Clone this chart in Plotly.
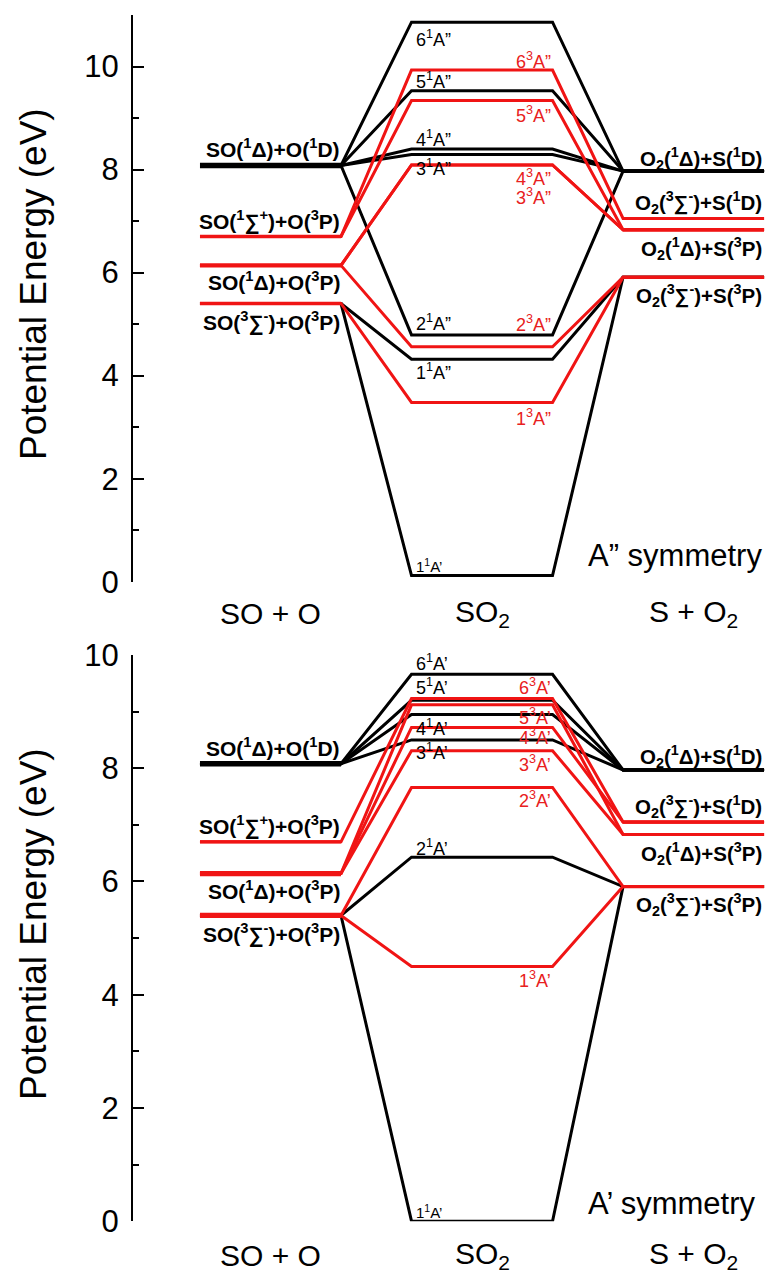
import plotly.graph_objects as go

# ---------------- data ----------------
# x nodes of the three columns (reactants, SO2, products)
X_LEFT = [0.0, 1.0]
X_MID = [1.5, 2.5]
X_RIGHT = [3.0, 4.0]
CATEGORIES = ["SO + O", "SO<sub>2</sub>", "S + O<sub>2</sub>"]
CATEGORY_X = [0.5, 2.0, 3.5]

LEFT_NAMES = [
    "SO(<sup>1</sup>Δ)+O(<sup>1</sup>D)",
    "SO(<sup>1</sup>∑<sup>+</sup>)+O(<sup>3</sup>P)",
    "SO(<sup>1</sup>Δ)+O(<sup>3</sup>P)",
    "SO(<sup>3</sup>∑<sup>-</sup>)+O(<sup>3</sup>P)",
]
LEFT_E = [8.08, 6.70, 6.14, 5.40]

RIGHT_NAMES = [
    "O<sub>2</sub>(<sup>1</sup>Δ)+S(<sup>1</sup>D)",
    "O<sub>2</sub>(<sup>3</sup>∑<sup>-</sup>)+S(<sup>1</sup>D)",
    "O<sub>2</sub>(<sup>1</sup>Δ)+S(<sup>3</sup>P)",
    "O<sub>2</sub>(<sup>3</sup>∑<sup>-</sup>)+S(<sup>3</sup>P)",
]
RIGHT_E = [7.97, 7.05, 6.83, 5.91]

# A'' symmetry panel
APP_STATES = ["6<sup>1</sup>A”", "5<sup>1</sup>A”", "4<sup>1</sup>A”", "3<sup>1</sup>A”", "2<sup>1</sup>A”",
              "1<sup>1</sup>A”", "1<sup>1</sup>A’",
              "6<sup>3</sup>A”", "5<sup>3</sup>A”", "4<sup>3</sup>A”", "3<sup>3</sup>A”", "2<sup>3</sup>A”",
              "1<sup>3</sup>A”"]
APP_E = [10.86, 9.53, 8.40, 8.29, 4.79, 4.32, 0.12,
         9.93, 9.34, 8.09, 8.09, 4.56, 3.48]
APP_LEFT = [0, 0, 0, 0, 0, 3, 3, 1, 1, 2, 2, 2, 3]
APP_RIGHT = [0, 0, 0, 0, 0, 3, 3, 1, 2, 2, 2, 3, 3]
APP_SPIN = [1, 1, 1, 1, 1, 1, 1, 3, 3, 3, 3, 3, 3]

# A' symmetry panel
AP_STATES = ["6<sup>1</sup>A’", "5<sup>1</sup>A’", "4<sup>1</sup>A’", "3<sup>1</sup>A’", "2<sup>1</sup>A’",
             "1<sup>1</sup>A’",
             "6<sup>3</sup>A’", "5<sup>3</sup>A’", "4<sup>3</sup>A’", "3<sup>3</sup>A’", "2<sup>3</sup>A’",
             "1<sup>3</sup>A’"]
AP_E = [9.66, 9.20, 8.95, 8.50, 6.43, 0.0,
        9.23, 9.12, 8.72, 8.31, 7.66, 4.50]
AP_LEFT = [0, 0, 0, 0, 3, 3, 1, 2, 2, 2, 3, 3]
AP_RIGHT = [0, 0, 0, 0, 3, 3, 1, 2, 1, 2, 3, 3]
AP_SPIN = [1, 1, 1, 1, 1, 1, 3, 3, 3, 3, 3, 3]

Y_TICKS_TOP = [0, 2, 4, 6, 8, 10]
Y_TICKS_BOT = [0, 2, 4, 6, 8, 10]

# ---------------- style ----------------
BLACK = "#000000"
RED = "#f01414"
RED_TXT = "#e82020"
FONT = "Liberation Sans, Arial, sans-serif"
W, H = 769, 1277
ML = 133

# label placement (pixel shifts from their level; anchor side)
APP_LBL = {  # state index: (side, yshift, size)
    0: ("l", -16, 18), 1: ("l", 10, 18), 2: ("l", 10, 18), 3: ("l", -13, 18), 4: ("l", 12, 18),
    5: ("l", -12, 18), 6: ("l", 10, 15),
    7: ("r", 10, 18), 8: ("r", -14, 18), 9: ("r", -13, 18), 10: ("r", -32, 18), 11: ("r", 23, 18),
    12: ("r", -15, 18),
}
AP_LBL = {
    0: ("l", 12, 18), 1: ("l", 14, 18), 2: ("l", -13, 18), 3: ("l", -12, 18), 4: ("l", 10, 18),
    5: ("l", 10, 15),
    6: ("r", 12, 18), 7: ("r", -12, 18), 8: ("r", -9, 18), 9: ("r", -13, 18), 10: ("r", -12, 18),
    11: ("r", -13, 18),
}
LEFT_LBL_SHIFT = [17, 16, -16, -18]
RIGHT_LBL_SHIFT = [16, 19, -16, -15]
LEFT_W_TOP = [5.5, 3.5, 4.2, 3.6]
LEFT_W_BOT = [5.5, 3.2, 5.2, 5.2]

fig = go.Figure()


def add_panel(states, energies, lidx, ridx, spin, xa, ya, lbl, left_w):
    # black first, red on top
    for want in (1, 3):
        for i, s in enumerate(states):
            if spin[i] != want:
                continue
            col = BLACK if want == 1 else RED
            fig.add_trace(go.Scatter(
                x=X_LEFT + X_MID + X_RIGHT,
                y=[LEFT_E[lidx[i]]] * 2 + [energies[i]] * 2 + [RIGHT_E[ridx[i]]] * 2,
                mode="lines", line=dict(color=col, width=3.0),
                xaxis=xa, yaxis=ya, hoverinfo="skip", showlegend=False))
    # asymptote flats
    for k, e in enumerate(LEFT_E):
        col = BLACK if k == 0 else RED
        fig.add_trace(go.Scatter(x=X_LEFT, y=[e, e], mode="lines",
                                 line=dict(color=col, width=left_w[k]),
                                 xaxis=xa, yaxis=ya, hoverinfo="skip", showlegend=False))
    for k, e in enumerate(RIGHT_E):
        col = BLACK if k == 0 else RED
        fig.add_trace(go.Scatter(x=X_RIGHT, y=[e, e], mode="lines",
                                 line=dict(color=col, width=3.2),
                                 xaxis=xa, yaxis=ya, hoverinfo="skip", showlegend=False))
    # state labels
    for i, s in enumerate(states):
        side, dy, sz = lbl[i]
        col = BLACK if spin[i] == 1 else RED_TXT
        if side == "l":
            fig.add_annotation(x=X_MID[0], y=energies[i], xref=xa, yref=ya, text=s,
                               xanchor="left", yanchor="middle", yshift=dy, xshift=2,
                               showarrow=False, font=dict(family=FONT, size=sz, color=col))
        else:
            fig.add_annotation(x=X_MID[1], y=energies[i], xref=xa, yref=ya, text=s,
                               xanchor="right", yanchor="middle", yshift=dy, xshift=0,
                               showarrow=False, font=dict(family=FONT, size=sz, color=col))
    # asymptote labels
    for k, name in enumerate(LEFT_NAMES):
        fig.add_annotation(x=X_LEFT[1], y=LEFT_E[k], xref=xa, yref=ya, text="<b>" + name + "</b>",
                           xanchor="right", yanchor="middle", yshift=LEFT_LBL_SHIFT[k], xshift=1,
                           showarrow=False, font=dict(family=FONT, size=21, color=BLACK))
    for k, name in enumerate(RIGHT_NAMES):
        fig.add_annotation(x=X_RIGHT[1], y=RIGHT_E[k], xref=xa, yref=ya, text="<b>" + name + "</b>",
                           xanchor="right", yanchor="middle", yshift=RIGHT_LBL_SHIFT[k] - 3, xshift=0,
                           showarrow=False, font=dict(family=FONT, size=20.5, color=BLACK))


add_panel(APP_STATES, APP_E, APP_LEFT, APP_RIGHT, APP_SPIN, "x", "y", APP_LBL, LEFT_W_TOP)
add_panel(AP_STATES, AP_E, AP_LEFT, AP_RIGHT, AP_SPIN, "x2", "y2", AP_LBL, LEFT_W_BOT)

# domains from pixel geometry
top_dom = [(H - 581.7) / H, (H - 15) / H]
bot_dom = [(H - 1221.2) / H, (H - 655) / H]

xr = [-0.475, 4.035]
yax_common = dict(showline=True, linewidth=2, linecolor=BLACK, ticks="inside", ticklen=11,
                  tickwidth=2, tickcolor=BLACK, showgrid=False, zeroline=False, automargin=False,
                  tickfont=dict(family=FONT, size=31, color=BLACK), ticklabelstandoff=6,
                  minor=dict(ticks="inside", dtick=1, ticklen=6, tickwidth=2, tickcolor=BLACK,
                             showgrid=False))

fig.update_layout(
    template="none",
    width=W, height=H, margin=dict(l=ML, r=0, t=0, b=0, pad=0, autoexpand=False),
    paper_bgcolor="white", plot_bgcolor="white", showlegend=False,
    xaxis=dict(domain=[0, 1], range=xr, visible=False, anchor="y", automargin=False),
    xaxis2=dict(domain=[0, 1], range=xr, visible=False, anchor="y2", automargin=False),
    yaxis=dict(domain=top_dom, range=[0, 11], tickvals=Y_TICKS_TOP, anchor="x", **yax_common),
    yaxis2=dict(domain=bot_dom, range=[0, 10], tickvals=Y_TICKS_BOT, anchor="x2", **yax_common),
)

# category labels under each panel
for xa, ypix in (("x", 613), ("x2", 1255)):
    for cx, ct in zip(CATEGORY_X, CATEGORIES):
        fig.add_annotation(x=cx, y=(H - ypix) / H, xref=xa, yref="paper", text=ct,
                           xanchor="center", yanchor="middle", showarrow=False,
                           font=dict(family=FONT, size=30, color=BLACK))

# symmetry labels
fig.add_annotation(x=4.0, y=0.0, xref="x", yref="y", text="A” symmetry", xanchor="right",
                   yanchor="middle", yshift=26, showarrow=False,
                   font=dict(family=FONT, size=31, color=BLACK))
fig.add_annotation(x=4.0, y=0.0, xref="x2", yref="y2", text="A’ symmetry", xanchor="right",
                   yanchor="middle", yshift=18, xshift=-6, showarrow=False,
                   font=dict(family=FONT, size=31, color=BLACK))

# y-axis titles
for ypix in (284, 924):
    fig.add_annotation(x=(33 - ML) / (W - ML), y=(H - ypix) / H, xref="paper", yref="paper",
                       text="Potential Energy (eV)", textangle=-90, xanchor="center",
                       yanchor="middle", showarrow=False,
                       font=dict(family=FONT, size=37, color=BLACK))

fig.write_html("out.html")
